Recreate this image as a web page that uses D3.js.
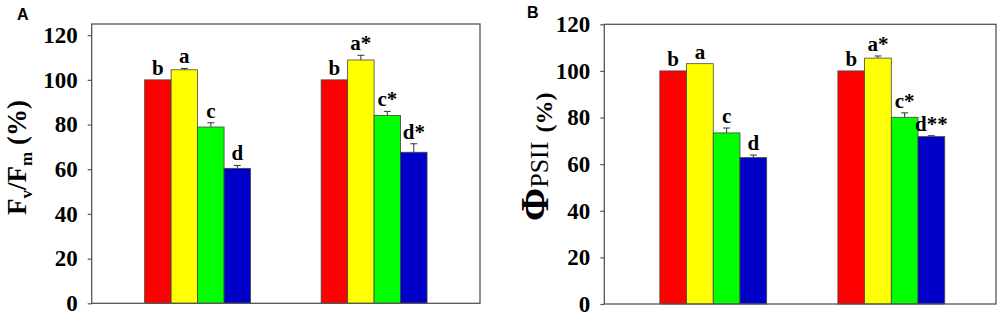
<!DOCTYPE html>
<html>
<head>
<meta charset="utf-8">
<script src="https://cdn.jsdelivr.net/npm/d3@7"></script>
<style>
  body { margin: 0; background: #fff; }
  svg { display: block; }
</style>
</head>
<body>
<div id="chart"></div>
<script>
// --- data ---
const groups = ["G1", "G2"];
const treatments = ["T1", "T2", "T3", "T4"];
const barColors = ["#ff0000", "#ffff00", "#00ff00", "#0000c8"];
const yTicks = [0, 20, 40, 60, 80, 100, 120];

const fvfmValues = [[100, 104.5, 78.9, 60.4], [100, 108.9, 84.1, 67.6]];
const fvfmErrors = [[0, 0.6, 1.9, 1.3], [0, 2.1, 1.8, 3.8]];
const fvfmLetters = [["b", "a", "c", "d"], ["b", "a*", "c*", "d*"]];

const phiValues = [[100, 103.1, 73.4, 62.8], [100, 105.5, 80.1, 71.8]];
const phiErrors = [[0, 0, 2.1, 1.1], [0, 0.9, 1.9, 0.4]];
const phiLetters = [["b", "a", "c", "d"], ["b", "a*", "c*", "d**"]];

const W = 1000, H = 317;
const serif = "'Liberation Serif', 'Times New Roman', serif";

const svg = d3.select("#chart").append("svg")
    .attr("width", W).attr("height", H);

function drawPanel(opts) {
    const {left, right, top, bottom, yMax, values, errors, letters} = opts;
    const g = svg.append("g");

    const y = d3.scaleLinear().domain([0, yMax]).range([bottom, top]);
    const x0 = d3.scaleBand().domain(groups).range([left, right])
        .paddingInner(0.4).paddingOuter(0.3).align(opts.align);
    const x1 = d3.scaleBand().domain(treatments).range([0, x0.bandwidth()]);

    // bars
    groups.forEach((grp, gi) => {
        const gg = g.append("g").attr("transform", `translate(${x0(grp)},0)`);
        treatments.forEach((t, ti) => {
            const v = values[gi][ti], e = errors[gi][ti];
            const bx = x1(t), bw = x1.bandwidth(), cx = bx + bw / 2;
            gg.append("rect")
                .attr("x", bx).attr("y", y(v))
                .attr("width", bw).attr("height", y(0) - y(v))
                .attr("fill", barColors[ti])
                .attr("stroke", "#444").attr("stroke-width", 0.8);
            if (e > 0) {
                gg.append("line")
                    .attr("x1", cx).attr("x2", cx)
                    .attr("y1", y(v)).attr("y2", y(v + e))
                    .attr("stroke", "#333").attr("stroke-width", 1);
                gg.append("line")
                    .attr("x1", cx - 3.5).attr("x2", cx + 3.5)
                    .attr("y1", y(v + e)).attr("y2", y(v + e))
                    .attr("stroke", "#333").attr("stroke-width", 1);
            }
            gg.append("text")
                .attr("x", cx).attr("y", y(v + e) - 5)
                .attr("text-anchor", "middle")
                .style("font-family", serif).style("font-weight", "bold")
                .style("font-size", "21px")
                .text(letters[gi][ti]);
        });
    });

    // frame
    g.append("rect")
        .attr("x", left).attr("y", top)
        .attr("width", right - left).attr("height", bottom - top)
        .attr("fill", "none").attr("stroke", "#555").attr("stroke-width", 1.3);

    // y axis
    const ax = g.append("g").attr("transform", `translate(${left},0)`)
        .call(d3.axisLeft(y).tickValues(yTicks).tickSize(4).tickPadding(10));
    ax.select(".domain").remove();
    ax.selectAll(".tick line").attr("stroke", "#555").attr("stroke-width", 1.2);
    ax.selectAll(".tick text")
        .attr("fill", "#000")
        .style("font-family", serif).style("font-weight", "bold")
        .style("font-size", "23px");
    return g;
}

// Panel A
const gA = drawPanel({
    left: 91.7, right: 480, top: 24, bottom: 303.3, yMax: 125, align: 0.5,
    values: fvfmValues, errors: fvfmErrors, letters: fvfmLetters
});
svg.append("text").attr("x", 17).attr("y", 20)
    .style("font-family", "'Liberation Sans', Arial, sans-serif")
    .style("font-weight", "bold").style("font-size", "16px").text("A");

const yLabA = svg.append("text")
    .attr("transform", "translate(26,215) rotate(-90)")
    .attr("text-anchor", "start")
    .style("font-family", serif).style("font-weight", "bold")
    .style("font-size", "27px");
yLabA.append("tspan").text("F");
yLabA.append("tspan").attr("dy", 6).style("font-size", "17px").text("v");
yLabA.append("tspan").attr("dy", -6).text("/F");
yLabA.append("tspan").attr("dy", 6).style("font-size", "17px").text("m");
yLabA.append("tspan").attr("dy", -6).text(" (%)");

// Panel B
const gB = drawPanel({
    left: 604.3, right: 996, top: 24.3, bottom: 304, yMax: 120, align: 0.52,
    values: phiValues, errors: phiErrors, letters: phiLetters
});
svg.append("text").attr("x", 527).attr("y", 18)
    .style("font-family", "'Liberation Sans', Arial, sans-serif")
    .style("font-weight", "bold").style("font-size", "16px").text("B");

const yLabB = svg.append("text")
    .attr("transform", "translate(548,221) rotate(-90)")
    .attr("text-anchor", "start")
    .style("font-family", serif).style("font-weight", "bold");
yLabB.append("tspan").style("font-size", "40px").text("Φ");
yLabB.append("tspan").style("font-size", "26px").style("font-weight", "normal").text("PSII");
yLabB.append("tspan").attr("dx", 9).attr("dy", 4).style("font-size", "24px").text("(%)");
</script>
</body>
</html>
